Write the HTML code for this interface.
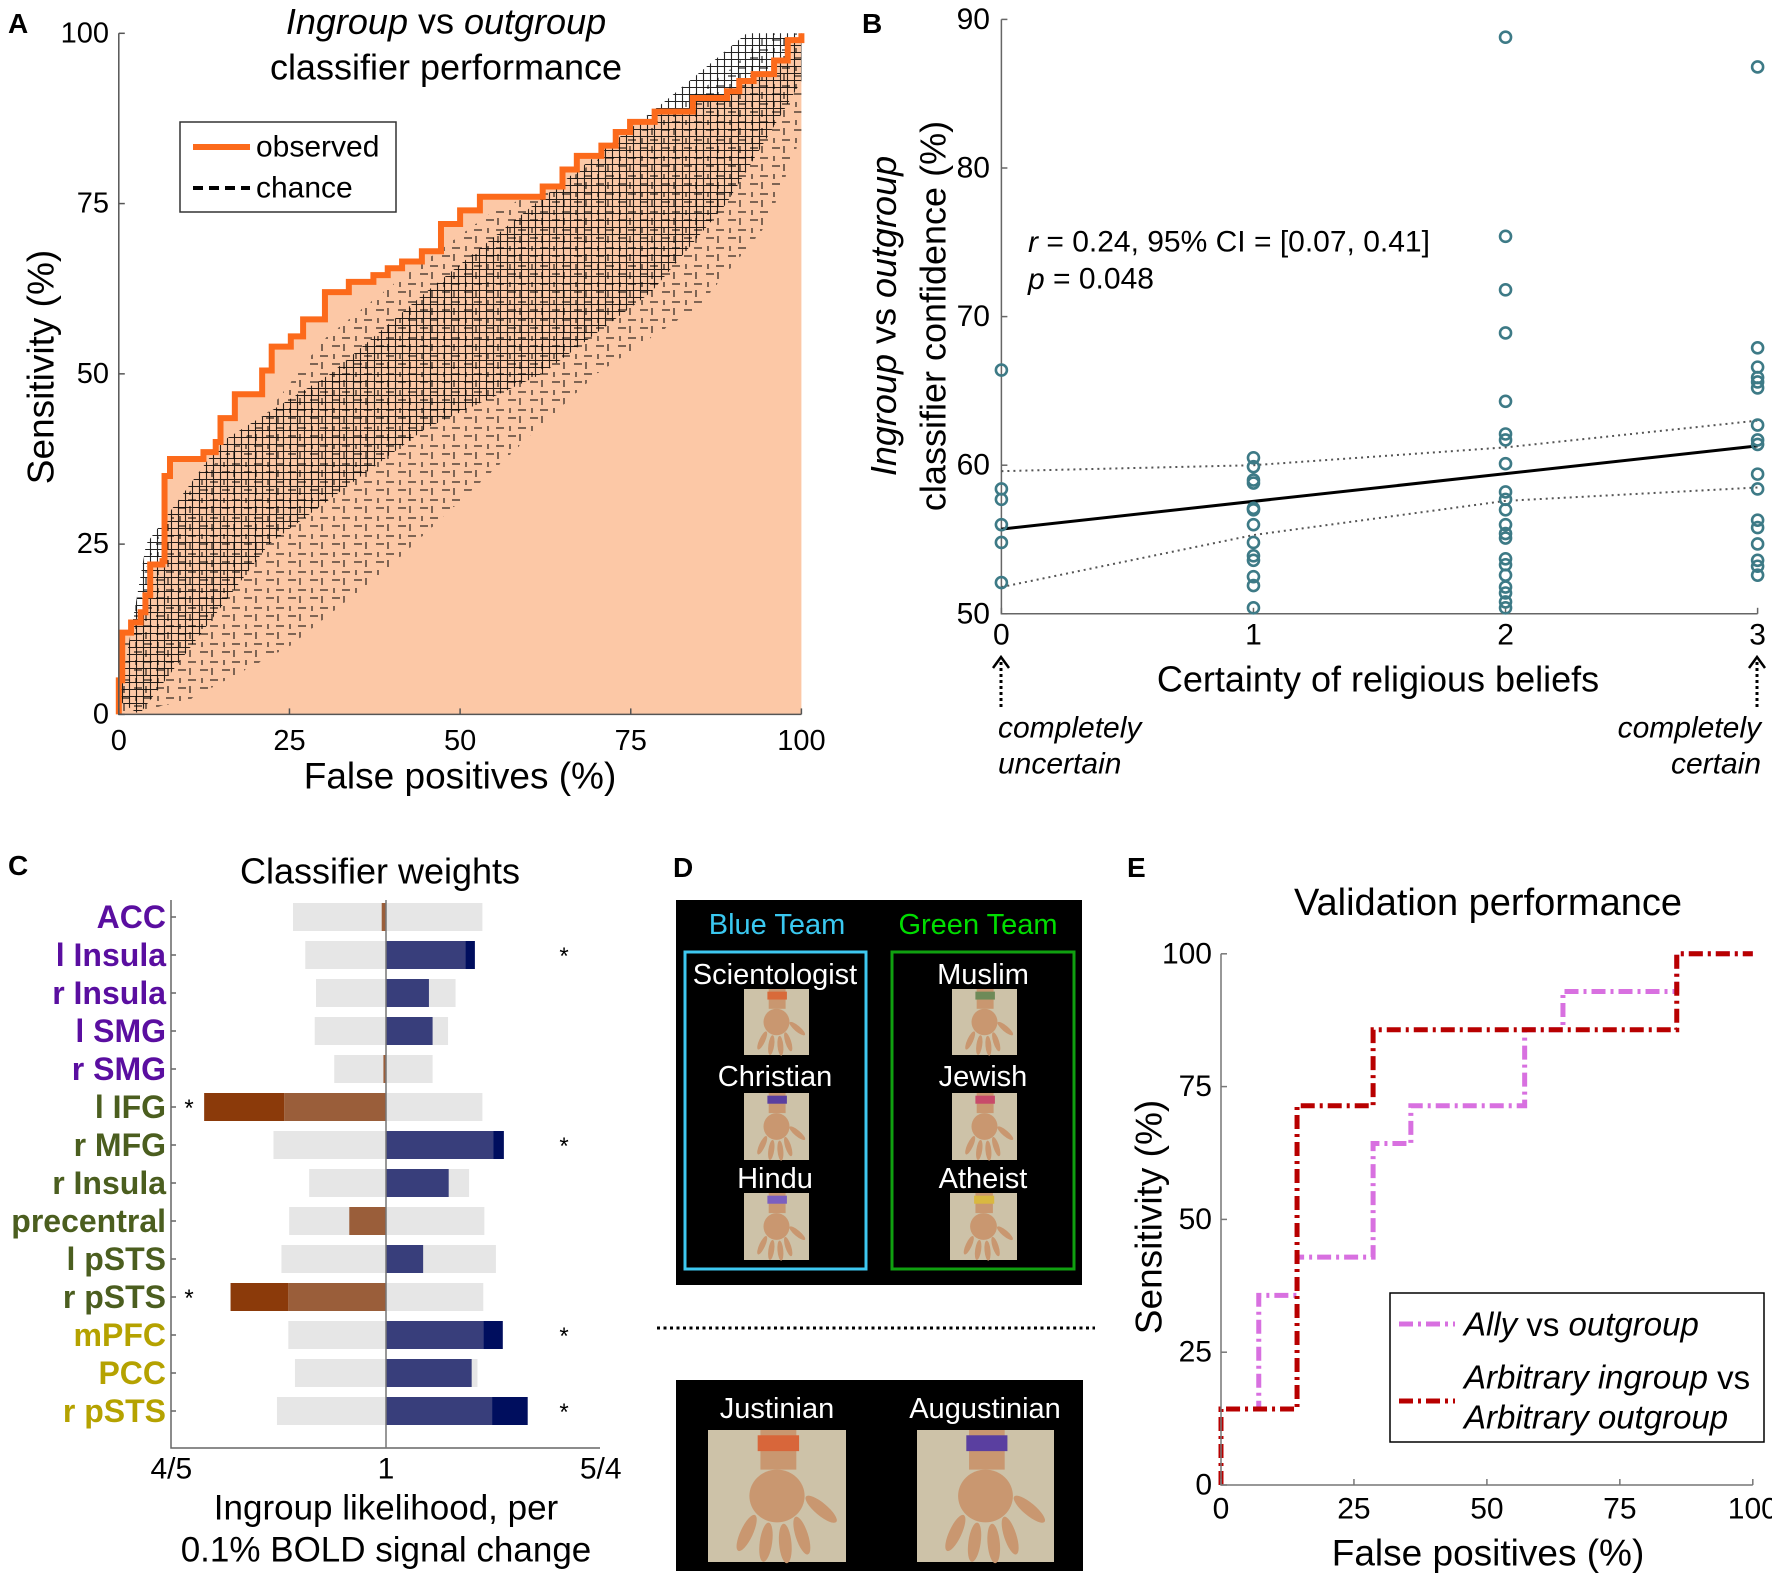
<!DOCTYPE html>
<html><head><meta charset="utf-8"><style>
html,body{margin:0;padding:0;background:#fff;}
svg{display:block;font-family:"Liberation Sans",Arial,sans-serif;}
</style></head><body>
<svg id="fig" width="1772" height="1580" viewBox="0 0 1772 1580" xmlns="http://www.w3.org/2000/svg">
<defs>
<pattern id="hatch" width="7" height="7" patternUnits="userSpaceOnUse"><path d="M0 3.5H7M3.5 0V7" stroke="#000" stroke-width="1.1"/></pattern>
<pattern id="sparse" width="22" height="18" patternUnits="userSpaceOnUse"><path d="M2 4H10M14 2V9M4 12V17M12 14H20" stroke="#000" stroke-width="1"/></pattern>
</defs>
<g id="pa">
<text x="8" y="33" font-size="28" font-weight="bold">A</text>
<text x="446" y="21" font-size="36" text-anchor="middle" dominant-baseline="central"><tspan font-style="italic">Ingroup</tspan> vs <tspan font-style="italic">outgroup</tspan></text>
<text x="446" y="67" font-size="36" text-anchor="middle" dominant-baseline="central">classifier performance</text>
<text transform="translate(41,367) rotate(-90)" font-size="37" text-anchor="middle" dominant-baseline="central">Sensitivity (%)</text>
<text x="460" y="776" font-size="37" text-anchor="middle" dominant-baseline="central">False positives (%)</text>
</g>
<g id="pb">
<text x="862" y="33" font-size="28" font-weight="bold">B</text>
<text transform="translate(883,316) rotate(-90)" font-size="36" text-anchor="middle" dominant-baseline="central"><tspan font-style="italic">Ingroup</tspan> vs <tspan font-style="italic">outgroup</tspan></text>
<text transform="translate(933,316) rotate(-90)" font-size="36" text-anchor="middle" dominant-baseline="central">classifier confidence (%)</text>
<text x="1378" y="679" font-size="36" text-anchor="middle" dominant-baseline="central">Certainty of religious beliefs</text>
<text x="1028" y="242" font-size="30" dominant-baseline="central"><tspan font-style="italic">r</tspan> = 0.24, 95% CI = [0.07, 0.41]</text>
<text x="1028" y="279" font-size="30" dominant-baseline="central"><tspan font-style="italic">p</tspan> = 0.048</text>
<text x="998" y="728" font-size="30" font-style="italic" dominant-baseline="central">completely</text>
<text x="998" y="764" font-size="30" font-style="italic" dominant-baseline="central">uncertain</text>
<text x="1761" y="728" font-size="30" font-style="italic" text-anchor="end" dominant-baseline="central">completely</text>
<text x="1761" y="764" font-size="30" font-style="italic" text-anchor="end" dominant-baseline="central">certain</text>
<g><line x1="1001" y1="707" x2="1001" y2="662" stroke="#000" stroke-width="3" stroke-dasharray="3,3"/><path d="M993 668 L1001 657 L1009 668" fill="none" stroke="#000" stroke-width="2.5"/></g>
<g><line x1="1757" y1="707" x2="1757" y2="662" stroke="#000" stroke-width="3" stroke-dasharray="3,3"/><path d="M1749 668 L1757 657 L1765 668" fill="none" stroke="#000" stroke-width="2.5"/></g>
</g>
<g id="pc">
<text x="8" y="875" font-size="28" font-weight="bold">C</text>
<text x="380" y="871" font-size="36" text-anchor="middle" dominant-baseline="central">Classifier weights</text>
<text x="386" y="1508" font-size="35" text-anchor="middle" dominant-baseline="central">Ingroup likelihood, per</text>
<text x="386" y="1550" font-size="35" text-anchor="middle" dominant-baseline="central">0.1% BOLD signal change</text>
</g>
<g id="pd">
<text x="673" y="877" font-size="28" font-weight="bold">D</text>
<rect x="676" y="900" width="406" height="385" fill="#000"/>
<text x="777" y="925" font-size="29" fill="#3ac8f0" text-anchor="middle" dominant-baseline="central">Blue Team</text>
<text x="978" y="925" font-size="29" fill="#00dd00" text-anchor="middle" dominant-baseline="central">Green Team</text>
<rect x="685" y="952" width="181" height="317" fill="none" stroke="#3ec8f0" stroke-width="3"/>
<rect x="892" y="952" width="182" height="317" fill="none" stroke="#10a010" stroke-width="3"/>
<text x="775" y="975" font-size="29" fill="#fff" text-anchor="middle" dominant-baseline="central">Scientologist</text>
<text x="775" y="1077" font-size="29" fill="#fff" text-anchor="middle" dominant-baseline="central">Christian</text>
<text x="775" y="1179" font-size="29" fill="#fff" text-anchor="middle" dominant-baseline="central">Hindu</text>
<text x="983" y="975" font-size="29" fill="#fff" text-anchor="middle" dominant-baseline="central">Muslim</text>
<text x="983" y="1077" font-size="29" fill="#fff" text-anchor="middle" dominant-baseline="central">Jewish</text>
<text x="983" y="1179" font-size="29" fill="#fff" text-anchor="middle" dominant-baseline="central">Atheist</text>
<line x1="657" y1="1328" x2="1095" y2="1328" stroke="#000" stroke-width="3" stroke-dasharray="3,3.5"/>
<rect x="676" y="1380" width="407" height="191" fill="#000"/>
<text x="777" y="1409" font-size="29" fill="#fff" text-anchor="middle" dominant-baseline="central">Justinian</text>
<text x="985" y="1409" font-size="29" fill="#fff" text-anchor="middle" dominant-baseline="central">Augustinian</text>
</g>
<g id="pe">
<text x="1127" y="877" font-size="28" font-weight="bold">E</text>
<text x="1488" y="903" font-size="38" text-anchor="middle" dominant-baseline="central">Validation performance</text>
<text transform="translate(1149,1217) rotate(-90)" font-size="37" text-anchor="middle" dominant-baseline="central">Sensitivity (%)</text>
<text x="1488" y="1553" font-size="37" text-anchor="middle" dominant-baseline="central">False positives (%)</text>
<rect id="elegend" x="1390" y="1293" width="374" height="149" fill="#fff" stroke="#000" stroke-width="1.5"/>
<line x1="1399" y1="1324" x2="1455" y2="1324" stroke="#d870e0" stroke-width="5" stroke-dasharray="14,5,3,5"/>
<text x="1464" y="1324" font-size="33" font-style="italic" dominant-baseline="central">Ally<tspan font-style="normal"> vs </tspan>outgroup</text>
<line x1="1399" y1="1401" x2="1455" y2="1401" stroke="#b80000" stroke-width="5" stroke-dasharray="14,5,3,5"/>
<text x="1464" y="1377" font-size="33" font-style="italic" dominant-baseline="central">Arbitrary ingroup<tspan font-style="normal"> vs</tspan></text>
<text x="1464" y="1417" font-size="33" font-style="italic" dominant-baseline="central">Arbitrary outgroup</text>
</g>
</svg>
<script>
const NS='http://www.w3.org/2000/svg';
const svg=document.getElementById('fig');
function mk(tag,attrs,parent){const e=document.createElementNS(NS,tag);for(const k in attrs)e.setAttribute(k,attrs[k]);(parent||svg).appendChild(e);return e;}

// ---------- Panel A data ----------
const rocTicks=[0,25,50,75,100];
const obsFP=[0,0,0.5,1.8,3.2,3.9,4.6,6.4,6.7,7.5,12.4,14.2,14.9,17,21,22.4,25.2,27,30.2,33.7,37.3,39.4,41.5,44.4,47.2,50,52.9,62.1,65,67.1,70.7,72.8,74.9,78.5,84.1,89.1,90.9,93,96,98,100];
const obsSens=[0,5,12,13.5,15,17.5,22,22.5,35,37.5,38.5,40,43.5,47,50.5,54,55.5,58,62,63.5,64.5,65.5,66.5,68,72,74,76,77.5,80,82,83.5,85.5,87,88.5,90.5,91.5,93,94,96,99,100];
const denseUpperFP=[0,4,15,31,45,61,80,92,100];
const denseUpperSens=[2,25,40,50,62,75,90,100,100];
const denseLowerFP=[100,97,89,78,62,45,22,3];
const denseLowerSens=[93,88,75,62,50,42,25,0];
const sparseUpperFP=[0,0,5,12,20,30,40,55,65,80,90,95,100];
const sparseUpperSens=[0,8,25,35,42,55,63,74,78,88,95,100,100];
const sparseLowerFP=[100,95,85,70,55,40,25,10];
const sparseLowerSens=[85,72,60,50,36,22,10,2];
const ax=v=>118.8+v*6.826, ay=v=>714.4-v*6.811;
const pa=document.getElementById('pa');
function stepPath(xs,ys,fx,fy){let d='M'+fx(xs[0])+' '+fy(ys[0]);for(let i=1;i<xs.length;i++){d+=' H'+fx(xs[i])+' V'+fy(ys[i]);}return d;}
{let d=stepPath(obsFP,obsSens,ax,ay)+' V'+ay(0)+' Z';
const f=mk('path',{d:d,fill:'#fcc8a6'},pa);

}
function polyFrom(x1,y1,x2,y2){const p=[];for(let i=0;i<x1.length;i++)p.push(ax(x1[i])+','+ay(y1[i]));for(let i=0;i<x2.length;i++)p.push(ax(x2[i])+','+ay(y2[i]));return p.join(' ');}
{const s=mk('polygon',{points:polyFrom(sparseUpperFP,sparseUpperSens,sparseLowerFP,sparseLowerSens),fill:'url(#sparse)'},pa);


const h=mk('polygon',{points:polyFrom(denseUpperFP,denseUpperSens,denseLowerFP,denseLowerSens),fill:'url(#hatch)',opacity:'0.85'},pa);

}
{const o=mk('path',{d:stepPath(obsFP,obsSens,ax,ay),fill:'none',stroke:'#fc6a1b','stroke-width':6,'stroke-linejoin':'miter'},pa);

}
{const a=mk('path',{d:'M'+ax(0)+' '+ay(100)+' V'+ay(0)+' H'+ax(100),fill:'none',stroke:'#555','stroke-width':1.5},pa);

}
rocTicks.forEach(t=>{
 const tl=mk('text',{x:109,y:ay(t),'font-size':29,'text-anchor':'end','dominant-baseline':'central'},pa);tl.textContent=t;
 
 
 const tk=mk('line',{x1:ax(0),x2:ax(0)+6,y1:ay(t),y2:ay(t),stroke:'#555','stroke-width':1.5},pa);
 
 
 const xl=mk('text',{x:ax(t),y:741,'font-size':29,'text-anchor':'middle','dominant-baseline':'central'},pa);xl.textContent=t;
 
 
 const xt=mk('line',{x1:ax(t),x2:ax(t),y1:ay(0),y2:ay(0)-6,stroke:'#555','stroke-width':1.5},pa);
 
 
});
{const lg=mk('rect',{x:180,y:122,width:216,height:90,fill:'#fff',stroke:'#333','stroke-width':1.5},pa);


const l1=mk('line',{x1:193,x2:250,y1:147,y2:147,stroke:'#fc6a1b','stroke-width':6},pa);


const t1=mk('text',{x:256,y:147,'font-size':30,'dominant-baseline':'central'},pa);t1.textContent='observed';


const l2=mk('line',{x1:193,x2:250,y1:188,y2:188,stroke:'#000','stroke-width':4,'stroke-dasharray':'10,6'},pa);


const t2=mk('text',{x:256,y:188,'font-size':30,'dominant-baseline':'central'},pa);t2.textContent='chance';

}

// ---------- Panel B data ----------
const certTicks=[0,1,2,3];
const confTicks=[50,60,70,80,90];
const certainty=[0,0,0,0,0,0, 1,1,1,1,1,1,1,1,1,1,1,1,1, 2,2,2,2,2,2,2,2,2,2,2,2,2,2,2,2,2,2,2,2,2, 3,3,3,3,3,3,3,3,3,3,3,3,3,3,3,3,3];
const confidence=[66.4,58.4,57.7,56.0,54.8,52.1, 60.5,59.9,59.0,58.8,57.1,57.0,56.0,54.8,53.9,53.6,52.5,51.9,50.4, 88.8,75.4,71.8,68.9,64.3,62.1,61.7,60.1,58.2,57.7,57.0,56.0,55.4,55.1,53.7,53.3,52.6,51.8,51.4,50.8,50.4, 86.8,67.9,66.6,65.9,65.6,65.2,62.7,61.7,61.4,59.4,58.4,56.3,55.8,54.7,53.6,53.2,52.6];
const fitX=[0,3];
const fitY=[55.7,61.3];
const ciX=[0,1,2,3];
const ciUpper=[59.6,60.0,61.2,63.0];
const ciLower=[51.8,55.3,57.6,58.5];
const bx=v=>1001.4+v*252.07, by=v=>613.8-(v-50)*14.86;
const pb=document.getElementById('pb');
{const a=mk('path',{d:'M'+bx(0)+' '+by(90)+' V'+by(50)+' H'+bx(3),fill:'none',stroke:'#666','stroke-width':1.5},pb);

}
confTicks.forEach(t=>{
 const l=mk('text',{x:990,y:by(t),'font-size':30,'text-anchor':'end','dominant-baseline':'central'},pb);l.textContent=t;
 
 
 const k=mk('line',{x1:bx(0),x2:bx(0)+6,y1:by(t),y2:by(t),stroke:'#666','stroke-width':1.5},pb);
 
 
});
certTicks.forEach(t=>{
 const l=mk('text',{x:bx(t),y:635,'font-size':30,'text-anchor':'middle','dominant-baseline':'central'},pb);l.textContent=t;
 
 
 const k=mk('line',{x1:bx(t),x2:bx(t),y1:by(50),y2:by(50)-6,stroke:'#666','stroke-width':1.5},pb);
 
 
});
function linePts(xs,ys,fx,fy){return xs.map((x,i)=>fx(x)+','+fy(ys[i])).join(' ');}
{const u=mk('polyline',{points:linePts(ciX,ciUpper,bx,by),fill:'none',stroke:'#555','stroke-width':2,'stroke-dasharray':'2,4'},pb);


const lo=mk('polyline',{points:linePts(ciX,ciLower,bx,by),fill:'none',stroke:'#555','stroke-width':2,'stroke-dasharray':'2,4'},pb);


const f=mk('polyline',{points:linePts(fitX,fitY,bx,by),fill:'none',stroke:'#000','stroke-width':3},pb);

}
certainty.forEach((c,i)=>{
 const p=mk('circle',{cx:bx(c),cy:by(confidence[i]),r:5.5,fill:'none',stroke:'#3d7a86','stroke-width':2.6},pb);
 
 
});

// ---------- Panel C data ----------
const regions=['ACC','l Insula','r Insula','l SMG','r SMG','l IFG','r MFG','r Insula','precentral','l pSTS','r pSTS','mPFC','PCC','r pSTS'];
const regionColors=['#5a0ea0','#5a0ea0','#5a0ea0','#5a0ea0','#5a0ea0','#4b5e1f','#4b5e1f','#4b5e1f','#4b5e1f','#4b5e1f','#4b5e1f','#b5a200','#b5a200','#b5a200'];
const weights=[-0.02,0.414,0.2,0.217,-0.012,-0.847,0.549,0.292,-0.171,0.173,-0.724,0.544,0.399,0.66];
const nullLow=[-0.433,-0.376,-0.326,-0.332,-0.241,-0.474,-0.524,-0.358,-0.451,-0.487,-0.455,-0.455,-0.424,-0.508];
const nullHigh=[0.449,0.369,0.324,0.289,0.217,0.449,0.499,0.387,0.458,0.512,0.453,0.453,0.426,0.494];
const significant=[false,true,false,false,false,true,true,false,false,false,true,true,false,true];
const weightTicks=['4/5','1','5/4'];
const weightTickPos=[-1,0,1];
const cx=u=>386+u*214.7, cy=i=>917+i*38.0;
const pc=document.getElementById('pc');
const bh=28;
regions.forEach((r,i)=>{
 const y=cy(i)-bh/2;
 const g1=mk('rect',{x:cx(nullLow[i]),y:y,width:cx(0)-cx(nullLow[i]),height:bh,fill:'#e6e6e6'},pc);
 
 
 const g2=mk('rect',{x:cx(0),y:y,width:cx(nullHigh[i])-cx(0),height:bh,fill:'#e6e6e6'},pc);
 
 
 const w=weights[i];
 if(w>=0){
  const inner=Math.min(w,nullHigh[i]);
  const b=mk('rect',{x:cx(0),y:y,width:cx(inner)-cx(0),height:bh,fill:'#383e7b'},pc);
  
  
  if(w>nullHigh[i]){const d=mk('rect',{x:cx(nullHigh[i]),y:y,width:cx(w)-cx(nullHigh[i]),height:bh,fill:'#000e5e'},pc);
  
  }
 }else{
  const inner=Math.max(w,nullLow[i]);
  const b=mk('rect',{x:cx(inner),y:y,width:cx(0)-cx(inner),height:bh,fill:'#9a5e3a'},pc);
  
  
  if(w<nullLow[i]){const d=mk('rect',{x:cx(w),y:y,width:cx(nullLow[i])-cx(w),height:bh,fill:'#8b3a0a'},pc);
  
  }
 }
 const t=mk('text',{x:166,y:cy(i),'font-size':32,'font-weight':'bold',fill:regionColors[i],'text-anchor':'end','dominant-baseline':'central'},pc);t.textContent=r;
 
 
 const k=mk('line',{x1:171,x2:176,y1:cy(i),y2:cy(i),stroke:'#666','stroke-width':1.5},pc);
 
 
 if(significant[i]){
  const s=mk('text',{x:w<0?189:564,y:cy(i)+9,'font-size':24,'text-anchor':'middle'},pc);s.textContent='*';
  
  
 }
});
{const a=mk('path',{d:'M171 900 V1448 H600',fill:'none',stroke:'#666','stroke-width':1.5},pc);


const z=mk('line',{x1:cx(0),x2:cx(0),y1:900,y2:1448,stroke:'#777','stroke-width':1.5},pc);

}
weightTicks.forEach((t,i)=>{
 const l=mk('text',{x:cx(weightTickPos[i]),y:1469,'font-size':30,'text-anchor':'middle','dominant-baseline':'central'},pc);l.textContent=t;
 
 
});

// ---------- Panel D hands ----------
const pd=document.getElementById('pd');
const handBoxes=[[744,989,65,66,'#d86a3a'],[744,1093,65,67,'#5a3fa0'],[744,1193,65,67,'#7b5fc0'],[952,989,65,66,'#6e8a58'],[952,1093,65,67,'#c84a6a'],[950,1193,67,67,'#d9b840'],[708,1430,138,132,'#d8663a'],[917,1430,137,132,'#5a3fa0']];
handBoxes.forEach(h=>{
 const [x,y,w,hh,band]=h;
 const g=mk('g',{},pd);
 
 
 mk('rect',{x:x,y:y,width:w,height:hh,fill:'#cdc2a8'},g);
 const skin='#c99770';
 mk('rect',{x:x+w*0.38,y:y,width:w*0.26,height:hh*0.3,fill:skin},g);
 mk('ellipse',{cx:x+w*0.5,cy:y+hh*0.5,rx:w*0.2,ry:hh*0.2,fill:skin},g);
 [[-0.22,0.78,25],[-0.08,0.85,8],[0.06,0.86,-5],[0.18,0.8,-18],[0.32,0.6,-50]].forEach(f=>{
  const fx=x+w*(0.5+f[0]), fy=y+hh*f[1];
  mk('ellipse',{cx:fx,cy:fy,rx:w*0.045,ry:hh*0.15,fill:skin,transform:'rotate('+f[2]+' '+fx+' '+fy+')'},g);
 });
 mk('rect',{x:x+w*0.36,y:y+hh*0.04,width:w*0.3,height:hh*0.12,fill:band},g);
});

// ---------- Panel E data ----------
const valTicks=[0,25,50,75,100];
const allyFP=[0,0,7.1,7.1,14.3,14.3,28.6,28.6,35.7,35.7,57.1,57.1,64.3,64.3,85.7,85.7,100];
const allySens=[0,14.3,14.3,35.7,35.7,42.9,42.9,64.3,64.3,71.4,71.4,85.7,85.7,92.9,92.9,100,100];
const arbFP=[0,0,14.3,14.3,28.6,28.6,85.7,85.7,100];
const arbSens=[0,14.3,14.3,71.4,71.4,85.7,85.7,100,100];
const ex=v=>1221+v*5.318, ey=v=>1485-v*5.312;
const pe=document.getElementById('pe');
const legendBox=document.getElementById('elegend');
{const a=mk('path',{d:'M'+ex(0)+' '+ey(100)+' V'+ey(0)+' H'+ex(100),fill:'none',stroke:'#777','stroke-width':1.5},pe);

}
valTicks.forEach(t=>{
 const l=mk('text',{x:1212,y:ey(t),'font-size':30,'text-anchor':'end','dominant-baseline':'central'},pe);l.textContent=t;
 
 
 const k=mk('line',{x1:ex(0),x2:ex(0)+6,y1:ey(t),y2:ey(t),stroke:'#777','stroke-width':1.5},pe);
 
 
 const xl=mk('text',{x:ex(t),y:1509,'font-size':30,'text-anchor':'middle','dominant-baseline':'central'},pe);xl.textContent=t;
 
 
 const xk=mk('line',{x1:ex(t),x2:ex(t),y1:ey(0),y2:ey(0)-6,stroke:'#777','stroke-width':1.5},pe);
 
 
});
{const al=mk('polyline',{points:linePts(allyFP,allySens,ex,ey),fill:'none',stroke:'#d870e0','stroke-width':5,'stroke-dasharray':'14,5,3,5'},pe);


pe.insertBefore(al,legendBox);
const ar=mk('polyline',{points:linePts(arbFP,arbSens,ex,ey),fill:'none',stroke:'#b80000','stroke-width':5,'stroke-dasharray':'14,5,3,5'},pe);


pe.insertBefore(ar,legendBox);}
</script>
</body></html>
